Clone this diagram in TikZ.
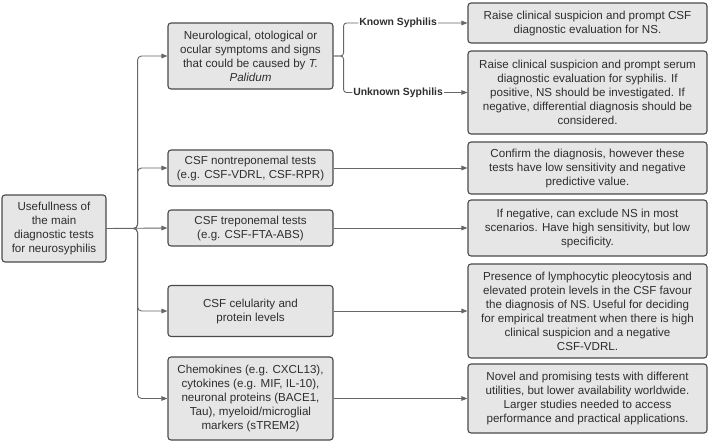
\documentclass[tikz,border=0pt]{standalone}
\usepackage{fontspec}
\setmainfont{Liberation Sans}
\usetikzlibrary{arrows.meta}
\definecolor{boxfill}{HTML}{E6E6E6}
\definecolor{boxline}{HTML}{4A4A4A}
\definecolor{linecol}{HTML}{666666}
\definecolor{textcol}{HTML}{2E2E2E}
\begin{document}
\begin{tikzpicture}[x=1pt,y=-1pt,
  box/.style={draw=boxline, fill=boxfill, rounded corners=3pt, line width=1.1pt,
    align=center, text=textcol, inner sep=0pt,
    font=\fontsize{11.6}{14}\selectfont},
  midbox/.style={box, minimum width=165pt},
  rbox/.style={box, minimum width=239pt},
  arr/.style={draw=linecol, line width=0.9pt, -{Triangle[length=6pt,width=4.5pt]}},
  lab/.style={fill=white, inner sep=1pt, text=textcol, font=\bfseries\fontsize{10.4}{12}\selectfont}]
\useasboundingbox (0,0) rectangle (709,442);
% left
\node[box, minimum width=104pt, minimum height=67pt] (L) at (54,228.5)
  {Usefullness of\\ the main\\ diagnostic tests\\ for neurosyphilis};
% middle
\node[midbox, minimum height=66pt] (M1) at (250.5,56)
  {Neurological, otological or\\ ocular symptoms and signs\\ that could be caused by \textit{T.}\\ \textit{Palidum}};
\node[midbox, minimum height=36pt] (M2) at (250.5,168)
  {CSF nontreponemal tests\\ (e.g. CSF-VDRL, CSF-RPR)};
\node[midbox, minimum height=36pt] (M3) at (250.5,228)
  {CSF treponemal tests\\ (e.g. CSF-FTA-ABS)};
\node[midbox, minimum height=51pt] (M4) at (250.5,311)
  {CSF celularity and\\ protein levels};
\node[midbox, minimum height=83pt] (M5) at (250.5,398.5)
  {Chemokines (e.g. CXCL13),\\ cytokines (e.g. MIF, IL-10),\\ neuronal proteins (BACE1,\\ Tau), myeloid/microglial\\ markers (sTREM2)};
% right
\node[rbox, minimum height=40pt] (R1) at (587.5,23)
  {Raise clinical suspicion and prompt CSF\\ diagnostic evaluation for NS.};
\node[rbox, minimum height=83pt] (R2) at (587.5,92.5)
  {Raise clinical suspicion and prompt serum\\ diagnostic evaluation for syphilis. If\\ positive, NS should be investigated. If\\ negative, differential diagnosis should be\\ considered.};
\node[rbox, minimum height=52pt] (R3) at (587.5,168)
  {Confirm the diagnosis, however these\\ tests have low sensitivity and negative\\ predictive value.};
\node[rbox, minimum height=56pt] (R4) at (587.5,228)
  {If negative, can exclude NS in most\\ scenarios. Have high sensitivity, but low\\ specificity.};
\node[rbox, minimum height=94pt] (R5) at (587.5,311)
  {Presence of lymphocytic pleocytosis and\\ elevated protein levels in the CSF favour\\ the diagnosis of NS. Useful for deciding\\ for empirical treatment when there is high\\ clinical suspicion and a negative\\ CSF-VDRL.};
\node[rbox, minimum height=69pt] (R6) at (587.5,398.5)
  {Novel and promising tests with different\\ utilities, but lower availability worldwide.\\ Larger studies needed to access\\ performance and practical applications.};
% left tree
\foreach \m in {M1,M2,M4,M5}
  \draw[arr, rounded corners=4pt] (L.east) -- ++(31,0) |- (\m.west);
\draw[arr] (L.east) -- (M3.west);
% bracket
\draw[arr, rounded corners=3pt] (M1.east) -- ++(10,0) |- node[lab, pos=0.72] {Known Syphilis} (R1.west);
\draw[arr, rounded corners=3pt] (M1.east) -- ++(10,0) |- node[lab, pos=0.72] {Unknown Syphilis} (R2.west);
% right arrows
\draw[arr] (M2.east) -- (R3.west);
\draw[arr] (M3.east) -- (R4.west);
\draw[arr] (M4.east) -- (R5.west);
\draw[arr] (M5.east) -- (R6.west);
\end{tikzpicture}
\end{document}
